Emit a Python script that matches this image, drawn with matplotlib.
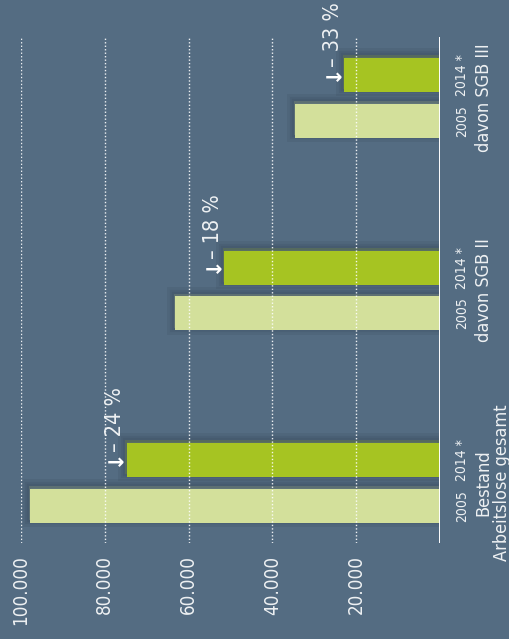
import numpy as np
import matplotlib.pyplot as plt
import matplotlib.patheffects as pe

# -----------------------------
# Data
# -----------------------------
groups = ["Bestand\nArbeitslose gesamt", "davon SGB II", "davon SGB III"]
years = ["2005", "2014 *"]
values_2005 = [97800, 63200, 34600]
values_2014 = [74800, 51500, 22900]
changes = ["– 24 %", "– 18 %", "– 33 %"]
tick_vals = [20000, 40000, 60000, 80000, 100000]
tick_labels = ["20.000", "40.000", "60.000", "80.000", "100.000"]

# -----------------------------
# Style
# -----------------------------
BG = "#546c82"
LIGHT = "#d3e09b"
GREEN = "#a6c422"
TXT = "#eef1f3"
plt.rcParams["font.family"] = ["DejaVu Sans"]
plt.rcParams["font.stretch"] = "condensed"

DPI = 100
W, H = 509, 639
fig = plt.figure(figsize=(W / DPI, H / DPI), dpi=DPI, facecolor=BG)
ax = fig.add_axes([21 / W, (H - 543) / H, 419 / W, 506 / H])
ax.set_facecolor(BG)

y = np.arange(len(groups))
off = 0.119
bar_h = 0.177

shadow = [pe.Stroke(offset=(-1, 2), linewidth=lw, foreground="#1b2430", alpha=0.08)
          for lw in (10, 6, 3)] + [pe.Normal()]

bars05 = ax.barh(y - off, values_2005, height=bar_h, color=LIGHT, zorder=2)
bars14 = ax.barh(y + off, values_2014, height=bar_h, color=GREEN, zorder=2)
for b in list(bars05) + list(bars14):
    b.set_path_effects(shadow)

ax.set_xlim(100000, 0)
ax.set_ylim(-0.312, 2.317)

# dotted grid lines drawn over the bars
for v in tick_vals:
    ax.axvline(v, color="white", lw=1.0, ls=(0, (1, 1.5)), alpha=0.9, zorder=3)
ax.axvline(0, color="white", lw=1.4, zorder=4)

for s in ax.spines.values():
    s.set_visible(False)

ax.set_xticks(tick_vals)
ax.set_xticklabels(tick_labels, rotation=90, fontsize=13.5, color=TXT)
ax.tick_params(axis="x", length=0, pad=9)
ax.set_yticks([])

# year labels and group labels to the right of the baseline
for i in range(len(groups)):
    ax.annotate(years[0], xy=(1, y[i] - off), xycoords=("axes fraction", "data"),
                xytext=(16, 0), textcoords="offset points", rotation=90,
                ha="center", va="center", fontsize=10, color=TXT)
    ax.annotate(years[1], xy=(1, y[i] + off), xycoords=("axes fraction", "data"),
                xytext=(16, 0), textcoords="offset points", rotation=90,
                ha="center", va="center", fontsize=10, color=TXT)
    ax.annotate(groups[i], xy=(1, y[i]), xycoords=("axes fraction", "data"),
                xytext=(25, 0), textcoords="offset points", rotation=90,
                ha="left", va="center", multialignment="center",
                fontsize=13, color=TXT, linespacing=1.0)

# change markers at the end of the 2014 bars
for i in range(len(groups)):
    ax.annotate("→", xy=(values_2014[i], y[i] + off), xycoords="data",
                xytext=(-1.5, -2), textcoords="offset points",
                ha="right", va="center", fontsize=15, fontweight="bold",
                fontstretch="normal", color="white", zorder=5)
    ax.annotate(changes[i], xy=(values_2014[i], y[i] + off), xycoords="data",
                xytext=(-8, 6), textcoords="offset points", rotation=90,
                ha="center", va="bottom", fontsize=15.5, color=TXT, zorder=5)

fig.savefig("out.png", dpi=DPI, facecolor=BG)
